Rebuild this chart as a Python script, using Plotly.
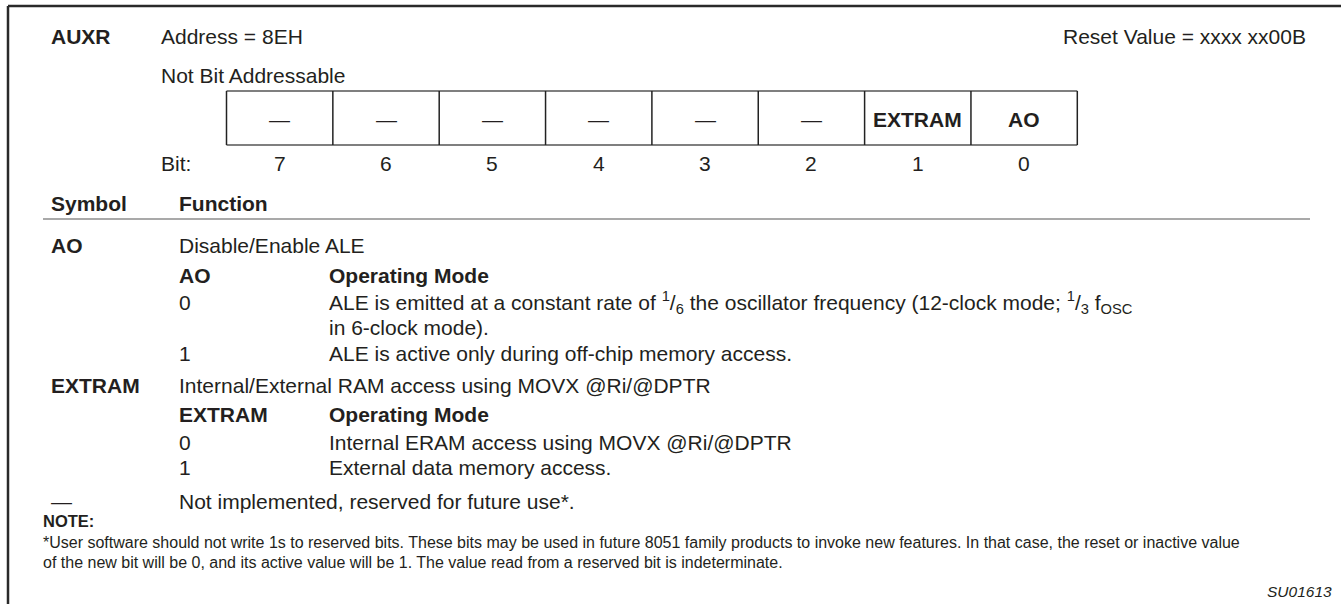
import plotly.graph_objects as go

# ---------------- data ----------------
register_name = "AUXR"
address_text = "Address = 8EH"
reset_text = "Reset Value = xxxx xx00B"
addressable_text = "Not Bit Addressable"
bit_numbers = [7, 6, 5, 4, 3, 2, 1, 0]
bit_names = ["—", "—", "—", "—", "—", "—", "EXTRAM", "AO"]
bit_bold = [False, False, False, False, False, False, True, True]

symbols = ["AO", "EXTRAM", "—"]
functions = [
    "Disable/Enable ALE",
    "Internal/External RAM access using MOVX @Ri/@DPTR",
    "Not implemented, reserved for future use*.",
]
ao_values = ["0", "1"]
ao_modes = [
    ["ALE is emitted at a constant rate of <sup>1</sup>/<sub>6</sub> the oscillator frequency (12-clock mode; <sup>1</sup>/<sub>3</sub> f<sub>OSC</sub>",
     "in 6-clock mode)."],
    ["ALE is active only during off-chip memory access."],
]
extram_values = ["0", "1"]
extram_modes = [
    "Internal ERAM access using MOVX @Ri/@DPTR",
    "External data memory access.",
]
note_title = "NOTE:"
note_lines = [
    "*User software should not write 1s to reserved bits. These bits may be used in future 8051 family products to invoke new features. In that case, the reset or inactive value",
    "of the new bit will be 0, and its active value will be 1. The value read from a reserved bit is indeterminate.",
]
figure_id = "SU01613"

# ---------------- styling / layout ----------------
W, H = 1341, 604
FONT = "Liberation Sans, Arial, Helvetica, sans-serif"
TXT = "#231f20"
FS = 21
FS_NOTE = 16

fig = go.Figure()
ann = []
shapes = []


def text(x, y, s, size=FS, bold=False, anchor="left", italic=False):
    if bold:
        s = "<b>" + s + "</b>"
    if italic:
        s = "<i>" + s + "</i>"
    ann.append(dict(x=x, y=y, xref="x", yref="y", text=s, showarrow=False,
                    xanchor=anchor, yanchor="middle", align="left",
                    font=dict(family=FONT, size=size, color=TXT),
                    borderpad=0, borderwidth=0))


def line(x0, y0, x1, y1, w=1.5, c="#333333"):
    shapes.append(dict(type="line", xref="x", yref="y", x0=x0, y0=y0, x1=x1, y1=y1,
                       line=dict(color=c, width=w)))


# outer frame (top and left edges)
line(8, 6, W + 10, 6, w=2.5, c="#2a2a2a")
line(8, 6, 8, H + 10, w=2.5, c="#2a2a2a")

# header
text(51, 36, register_name, bold=True)
text(161, 36, address_text)
text(1306, 36, reset_text, anchor="right")
text(161, 75, addressable_text)

# register cells
cell_left, cell_w, cell_top, cell_bot = 226.5, 106.35, 91, 145
n = len(bit_names)
line(cell_left, cell_top, cell_left + n * cell_w, cell_top, w=1.5, c="#555555")
line(cell_left, cell_bot, cell_left + n * cell_w, cell_bot, w=1.5, c="#555555")
for i in range(n + 1):
    xv = cell_left + i * cell_w
    line(xv, cell_top, xv, cell_bot, w=1.5, c="#222222")
for i, (name, b) in enumerate(zip(bit_names, bit_bold)):
    cx = cell_left + (i + 0.5) * cell_w
    text(cx, 119, name, bold=b, anchor="center")
text(161, 163, "Bit:")
for i, num in enumerate(bit_numbers):
    cx = cell_left + (i + 0.5) * cell_w
    text(cx, 163, str(num), anchor="center")

# symbol / function table
text(51, 203, "Symbol", bold=True)
text(179, 203, "Function", bold=True)
line(43, 219, 1310, 219, w=1.2, c="#555555")

# AO
text(51, 245, symbols[0], bold=True)
text(179, 245, functions[0])
text(179, 275, "AO", bold=True)
text(329, 275, "Operating Mode", bold=True)
text(179, 302, ao_values[0])
text(329, 302, ao_modes[0][0])
text(329, 327, ao_modes[0][1])
text(179, 353, ao_values[1])
text(329, 353, ao_modes[1][0])

# EXTRAM
text(51, 385, symbols[1], bold=True)
text(179, 385, functions[1])
text(179, 414, "EXTRAM", bold=True)
text(329, 414, "Operating Mode", bold=True)
text(179, 442, extram_values[0])
text(329, 442, extram_modes[0])
text(179, 467, extram_values[1])
text(329, 467, extram_modes[1])

# reserved
text(51, 501, symbols[2])
text(179, 501, functions[2])

# note
text(43, 521, note_title, size=16.5, bold=True)
text(43, 542, note_lines[0], size=FS_NOTE)
text(43, 562, note_lines[1], size=FS_NOTE)
text(1332, 591, figure_id, size=15.5, italic=True, anchor="right")

fig.update_layout(
    width=W, height=H,
    margin=dict(l=0, r=0, t=0, b=0),
    paper_bgcolor="white", plot_bgcolor="white",
    xaxis=dict(range=[0, W], visible=False, fixedrange=True),
    yaxis=dict(range=[H, 0], visible=False, fixedrange=True),
    annotations=ann, shapes=shapes, showlegend=False,
)
fig.write_html(
    "out.html",
    config={"displayModeBar": False},
    post_script="document.body.style.margin='0';document.body.style.overflow='hidden';",
)
